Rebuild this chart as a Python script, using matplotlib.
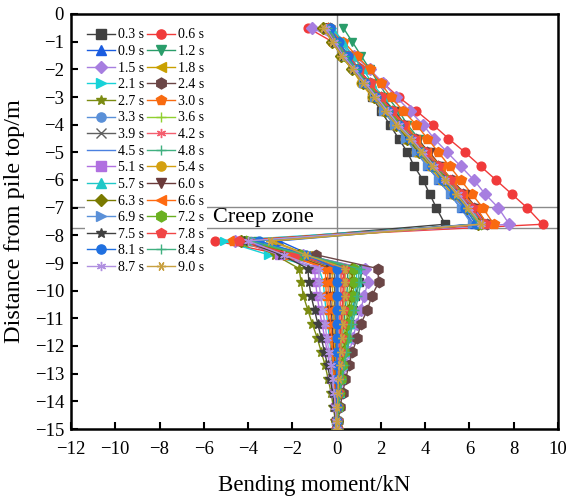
import matplotlib
matplotlib.use("Agg")
import matplotlib.pyplot as plt

plt.rcParams['font.family'] = ['Liberation Serif', 'DejaVu Serif']
plt.rcParams['mathtext.fontset'] = 'stix'

# depth of the measuring nodes (m)
depth = [-0.5, -1.0, -1.5, -2.0, -2.5, -3.0, -3.5, -4.0, -4.5, -5.0, -5.5, -6.0, -6.5, -7.0, -7.6,
         -8.2, -8.7, -9.2, -9.7, -10.2, -10.7, -11.2, -11.7, -12.2, -12.7, -13.2, -13.7, -14.2, -14.7, -15.0]

labels = ["0.3 s", "0.6 s", "0.9 s", "1.2 s", "1.5 s", "1.8 s", "2.1 s", "2.4 s", "2.7 s", "3.0 s",
          "3.3 s", "3.6 s", "3.9 s", "4.2 s", "4.5 s", "4.8 s", "5.1 s", "5.4 s", "5.7 s", "6.0 s",
          "6.3 s", "6.6 s", "6.9 s", "7.2 s", "7.5 s", "7.8 s", "8.1 s", "8.4 s", "8.7 s", "9.0 s"]

# bending moment (kN) per time step
m_0_3 = [-0.4, 0.0, 0.4, 0.8, 1.2, 1.6, 2.0, 2.4, 2.8, 3.2, 3.5, 3.9, 4.2, 4.5, 4.9,
         -4.0, -1.5, 1.2, 1.0, 0.85, 0.72, 0.6, 0.48, 0.37, 0.27, 0.18, 0.11, 0.05, 0.02, 0.0]
m_0_6 = [-1.3, -0.2, 0.6, 1.4, 2.1, 2.8, 3.6, 4.35, 5.05, 5.8, 6.5, 7.2, 7.9, 8.6, 9.3,
         -5.5, -2.4, 0.3, 0.3, 0.28, 0.24, 0.2, 0.16, 0.13, 0.1, 0.07, 0.04, 0.02, 0.01, 0.0]
m_0_9 = [-0.3, 0.1, 0.5, 0.9, 1.3, 1.8, 2.2, 2.7, 3.1, 3.6, 4.1, 4.6, 5.1, 5.6, 6.2,
         -2.6, -1.2, 0.1, 0.05, 0.05, 0.04, 0.04, 0.03, 0.03, 0.02, 0.02, 0.01, 0.01, 0.0, 0.0]
m_1_2 = [0.3, 0.7, 1.1, 1.5, 1.9, 2.3, 2.8, 3.2, 3.7, 4.1, 4.6, 5.0, 5.5, 5.9, 6.4,
         -3.6, -1.6, 0.5, 0.5, 0.45, 0.38, 0.32, 0.26, 0.2, 0.15, 0.1, 0.06, 0.03, 0.01, 0.0]
m_1_5 = [-1.1, 0.1, 0.8, 1.5, 2.1, 2.7, 3.3, 3.9, 4.4, 5.0, 5.6, 6.2, 6.7, 7.3, 7.8,
         -4.6, -1.5, 1.3, 1.4, 1.25, 1.08, 0.9, 0.74, 0.58, 0.44, 0.3, 0.18, 0.09, 0.03, 0.0]
m_1_8 = [-0.4, -0.1, 0.3, 0.7, 1.2, 1.7, 2.2, 2.8, 3.3, 3.9, 4.4, 5.0, 5.5, 6.0, 6.6,
         -2.9, -1.3, 0.2, 0.2, 0.18, 0.15, 0.13, 0.1, 0.08, 0.06, 0.04, 0.02, 0.01, 0.0, 0.0]
m_2_1 = [-0.2, 0.2, 0.6, 1.0, 1.5, 2.0, 2.5, 3.0, 3.5, 4.0, 4.5, 5.0, 5.5, 6.0, 6.5,
         -5.1, -3.1, -0.8, -0.6, -0.55, -0.48, -0.4, -0.33, -0.26, -0.2, -0.14, -0.09, -0.05, -0.02, 0.0]
m_2_4 = [-0.3, 0.1, 0.5, 1.0, 1.5, 2.0, 2.5, 3.0, 3.6, 4.1, 4.6, 5.2, 5.7, 6.2, 6.8,
         -4.3, -0.95, 1.86, 1.9, 1.58, 1.39, 1.09, 0.94, 0.71, 0.56, 0.4, 0.27, 0.16, 0.07, 0.02]
m_2_7 = [-0.5, -0.1, 0.3, 0.8, 1.3, 1.8, 2.3, 2.9, 3.4, 3.9, 4.5, 5.0, 5.5, 6.1, 6.6,
         -4.2, -2.8, -1.7, -1.6, -1.5, -1.3, -1.1, -0.88, -0.7, -0.52, -0.38, -0.25, -0.15, -0.06, 0.0]
m_3_0 = [-0.4, 0.3, 0.9, 1.5, 2.0, 2.45, 3.0, 3.6, 4.1, 4.6, 5.1, 5.6, 6.1, 6.6, 7.1,
         -4.7, -2.3, -0.5, -0.5, -0.46, -0.4, -0.34, -0.28, -0.22, -0.17, -0.12, -0.08, -0.04, -0.02, 0.0]
m_3_3 = [-0.3, 0.1, 0.5, 0.9, 1.4, 1.9, 2.4, 2.9, 3.4, 3.9, 4.4, 4.9, 5.4, 5.9, 6.4,
         -4.1, -1.8, 0.0, -0.05, -0.05, -0.04, -0.04, -0.03, -0.03, -0.02, -0.02, -0.01, 0.0, 0.0, 0.0]
m_3_6 = [-0.4, 0.0, 0.4, 0.9, 1.4, 1.9, 2.4, 2.9, 3.4, 3.9, 4.5, 5.0, 5.5, 6.0, 6.5,
         -4.0, -1.7, 0.6, 0.6, 0.54, 0.47, 0.4, 0.33, 0.26, 0.2, 0.14, 0.09, 0.05, 0.02, 0.0]
m_3_9 = [-0.5, -0.1, 0.4, 0.9, 1.4, 1.9, 2.4, 3.0, 3.5, 4.0, 4.5, 5.1, 5.6, 6.1, 6.6,
         -4.2, -1.9, -0.1, -0.1, -0.09, -0.08, -0.07, -0.06, -0.05, -0.04, -0.03, -0.02, -0.01, 0.0, 0.0]
m_4_2 = [-0.4, 0.0, 0.5, 1.0, 1.5, 2.0, 2.5, 3.0, 3.5, 4.1, 4.6, 5.1, 5.6, 6.1, 6.7,
         -4.3, -1.8, 0.2, 0.2, 0.18, 0.16, 0.13, 0.11, 0.09, 0.07, 0.05, 0.03, 0.02, 0.01, 0.0]
m_4_5 = [-0.3, 0.0, 0.4, 0.8, 1.3, 1.7, 2.2, 2.7, 3.2, 3.7, 4.2, 4.7, 5.2, 5.7, 6.2,
         -3.8, -1.6, 0.0, 0.0, 0.0, 0.0, 0.0, 0.0, 0.0, 0.0, 0.0, 0.0, 0.0, 0.0, 0.0]
m_4_8 = [-0.4, 0.0, 0.4, 0.9, 1.4, 1.8, 2.3, 2.8, 3.3, 3.8, 4.3, 4.8, 5.4, 5.9, 6.4,
         -4.0, -1.5, 1.1, 1.1, 0.98, 0.85, 0.72, 0.6, 0.48, 0.36, 0.25, 0.16, 0.08, 0.03, 0.0]
m_5_1 = [-0.5, -0.1, 0.4, 0.9, 1.4, 1.9, 2.5, 3.0, 3.5, 4.1, 4.6, 5.1, 5.7, 6.2, 6.7,
         -4.4, -2.6, -1.0, -0.95, -0.88, -0.78, -0.66, -0.54, -0.43, -0.32, -0.22, -0.14, -0.07, -0.03, 0.0]
m_5_4 = [-0.5, -0.2, 0.2, 0.7, 1.1, 1.6, 2.1, 2.6, 3.1, 3.6, 4.2, 4.7, 5.2, 5.8, 6.3,
         -4.1, -2.0, -0.2, -0.2, -0.18, -0.16, -0.13, -0.11, -0.09, -0.07, -0.05, -0.03, -0.02, -0.01, 0.0]
m_5_7 = [-0.2, 0.3, 0.7, 1.2, 1.6, 2.1, 2.6, 3.1, 3.6, 4.1, 4.6, 5.1, 5.6, 6.1, 6.5,
         -3.9, -1.6, 0.9, 0.9, 0.8, 0.7, 0.59, 0.49, 0.39, 0.3, 0.21, 0.13, 0.07, 0.03, 0.0]
m_6_0 = [-0.4, 0.0, 0.5, 1.0, 1.5, 2.0, 2.6, 3.1, 3.6, 4.2, 4.7, 5.2, 5.8, 6.3, 6.8,
         -4.2, -2.1, -0.3, -0.3, -0.28, -0.24, -0.2, -0.17, -0.14, -0.1, -0.07, -0.05, -0.02, -0.01, 0.0]
m_6_3 = [-0.6, -0.2, 0.2, 0.7, 1.2, 1.7, 2.2, 2.7, 3.2, 3.7, 4.3, 4.8, 5.3, 5.9, 6.4,
         -4.3, -1.7, 0.7, 0.7, 0.63, 0.55, 0.47, 0.39, 0.31, 0.23, 0.16, 0.1, 0.05, 0.02, 0.0]
m_6_6 = [-0.4, 0.0, 0.5, 1.0, 1.5, 2.0, 2.5, 3.1, 3.6, 4.1, 4.7, 5.2, 5.7, 6.3, 6.8,
         -4.5, -2.2, -0.4, -0.4, -0.37, -0.32, -0.27, -0.22, -0.18, -0.14, -0.1, -0.06, -0.03, -0.01, 0.0]
m_6_9 = [-0.3, 0.0, 0.4, 0.8, 1.2, 1.7, 2.1, 2.6, 3.1, 3.6, 4.1, 4.6, 5.1, 5.6, 6.1,
         -3.7, -1.5, 0.1, 0.1, 0.09, 0.08, 0.07, 0.06, 0.05, 0.04, 0.03, 0.02, 0.01, 0.0, 0.0]
m_7_2 = [-0.4, 0.0, 0.4, 0.9, 1.4, 1.9, 2.4, 2.9, 3.4, 3.9, 4.4, 5.0, 5.5, 6.0, 6.5,
         -4.1, -1.6, 0.8, 0.8, 0.72, 0.63, 0.53, 0.44, 0.35, 0.26, 0.18, 0.11, 0.06, 0.02, 0.0]
m_7_5 = [-0.5, -0.1, 0.3, 0.8, 1.3, 1.8, 2.3, 2.8, 3.3, 3.8, 4.4, 4.9, 5.4, 5.9, 6.5,
         -4.2, -2.5, -1.3, -1.25, -1.15, -1.0, -0.85, -0.7, -0.55, -0.41, -0.29, -0.18, -0.1, -0.04, 0.0]
m_7_8 = [-0.4, 0.0, 0.5, 1.0, 1.5, 2.0, 2.5, 3.0, 3.5, 4.0, 4.6, 5.1, 5.6, 6.1, 6.7,
         -4.4, -1.9, 0.35, 0.35, 0.32, 0.28, 0.24, 0.2, 0.16, 0.12, 0.08, 0.05, 0.03, 0.01, 0.0]
m_8_1 = [-0.3, 0.1, 0.5, 0.9, 1.3, 1.8, 2.3, 2.8, 3.3, 3.8, 4.3, 4.8, 5.3, 5.8, 6.3,
         -3.5, -1.4, 0.0, 0.02, 0.02, 0.02, 0.01, 0.01, 0.01, 0.01, 0.0, 0.0, 0.0, 0.0, 0.0]
m_8_4 = [-0.4, 0.0, 0.4, 0.9, 1.3, 1.8, 2.3, 2.8, 3.3, 3.8, 4.3, 4.9, 5.4, 5.9, 6.4,
         -3.9, -1.5, 1.0, 1.0, 0.9, 0.78, 0.66, 0.55, 0.44, 0.33, 0.23, 0.14, 0.07, 0.03, 0.0]
m_8_7 = [-0.5, -0.1, 0.3, 0.8, 1.3, 1.8, 2.3, 2.8, 3.4, 3.9, 4.4, 4.9, 5.5, 6.0, 6.5,
         -4.0, -2.4, -0.8, -0.8, -0.72, -0.63, -0.53, -0.44, -0.35, -0.26, -0.18, -0.11, -0.06, -0.02, 0.0]
m_9_0 = [-0.6, -0.2, 0.2, 0.7, 1.2, 1.7, 2.2, 2.7, 3.3, 3.8, 4.3, 4.9, 5.4, 5.9, 6.5,
         -3.0, -1.4, 0.4, 0.4, 0.36, 0.31, 0.27, 0.22, 0.18, 0.13, 0.09, 0.06, 0.03, 0.01, 0.0]

series = [m_0_3, m_0_6, m_0_9, m_1_2, m_1_5, m_1_8, m_2_1, m_2_4, m_2_7, m_3_0,
          m_3_3, m_3_6, m_3_9, m_4_2, m_4_5, m_4_8, m_5_1, m_5_4, m_5_7, m_6_0,
          m_6_3, m_6_6, m_6_9, m_7_2, m_7_5, m_7_8, m_8_1, m_8_4, m_8_7, m_9_0]

colors = ['#404040', '#f03a3a', '#1a5ce0', '#2a9d6a', '#a77ee0', '#c9a000', '#18d2d8', '#6b4646',
          '#7b8b12', '#f86a10', '#5a90d8', '#90d030', '#606060', '#f45f6f', '#4a80e0', '#40b080',
          '#b070e0', '#d4a010', '#20c8c8', '#6a3a3a', '#7a7a00', '#ff6a10', '#5a90d8', '#6ab020',
          '#404040', '#f04545', '#2070e0', '#40b080', '#b090e0', '#c8a040']
markers = ['s', 'o', '^', 'v', 'D', '<', '>', 'h', '*', 'p',
           'o', '+', 'x', (6, 2, 0), 'None', '+', 's', 'o', '^', 'v',
           'D', '<', '>', 'h', '*', 'p', 'o', '+', (6, 2, 0), (6, 2, 90)]

fig = plt.figure(figsize=(5.69, 5.01), dpi=100)
ax = fig.add_axes([71/569, 1-429/501, 487/569, 415/501])

ax.axvline(0, color='#8a8a8a', lw=1.0, zorder=1)
ax.axhline(-6.98, color='#8a8a8a', lw=1.0, zorder=1)
ax.axhline(-7.73, color='#8a8a8a', lw=1.0, zorder=1)

handles = []
for vals, lab, c, mk in zip(series, labels, colors, markers):
    ms = 7.5 if mk in ('*', 'h', 'p') else 6.3
    h, = ax.plot(vals, depth, color=c, marker=mk, ms=ms, lw=1.0, mew=1.0,
                 label=lab, zorder=3)
    handles.append(h)

ax.text(-5.6, -7.36, "Creep zone", fontsize=16, ha='left', va='center', zorder=4)

ax.set_xlim(-12, 10)
ax.set_ylim(-15, 0)
ax.set_xticks(range(-12, 11, 2))
ax.set_yticks(range(-15, 1, 1))
ax.tick_params(direction='in', length=5, width=1.5, labelsize=13.5, top=False, right=False)
ax.tick_params(axis='x', pad=9)
ax.tick_params(axis='y', pad=5)
for s in ax.spines.values():
    s.set_linewidth(1.8)
ax.set_xlabel("Bending moment/kN", fontsize=16.5, labelpad=12)
ax.set_ylabel("Distance from pile top/m", fontsize=17.5, labelpad=7)

# legend filled row by row (two columns)
order = list(range(0, 30, 2)) + list(range(1, 30, 2))
leg = ax.legend([handles[i] for i in order], [labels[i] for i in order],
                ncol=2, loc='upper left', bbox_to_anchor=(0.028, 0.972), fontsize=10,
                frameon=True, framealpha=1, facecolor='white', edgecolor='none',
                handlelength=2.0, handletextpad=0.2, columnspacing=0.2,
                labelspacing=0.26, borderpad=0.2, borderaxespad=0, markerscale=1.05)
leg.set_zorder(5)

fig.savefig("out.png", dpi=100)
